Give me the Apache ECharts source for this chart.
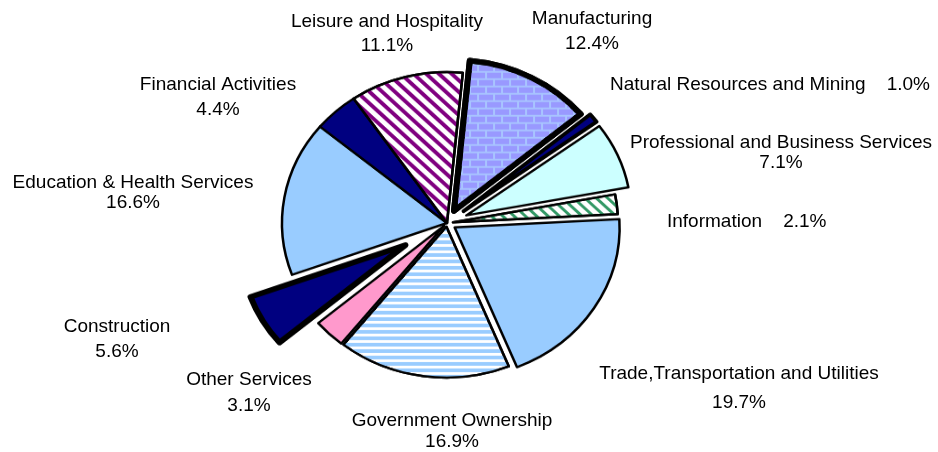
<!DOCTYPE html>
<html><head><meta charset="utf-8">
<script src="https://cdn.jsdelivr.net/npm/echarts@6/dist/echarts.min.js"></script>
<style>
html,body{margin:0;padding:0;background:#fff;}
#wrap{position:relative;width:938px;height:452px;overflow:hidden;background:#fff;}
#pie{position:absolute;left:0;top:0;width:938px;height:452px;transform-origin:447px 223px;transform:scaleY(0.915);}
#labels{position:absolute;left:0;top:0;width:938px;height:452px;}
</style></head><body>
<div id="wrap"><div id="pie"></div><div id="labels"></div></div>
<script>
// ---- data ----
const categories = ['Manufacturing','Natural Resources and Mining','Professional and Business Services','Information','Trade,Transportation and Utilities','Government Ownership','Other Services','Construction','Education & Health Services','Financial Activities','Leisure and Hospitality'];
const shares = [12.4, 1.0, 7.1, 2.1, 19.7, 16.9, 3.1, 5.6, 16.6, 4.4, 11.1];

// ---- styling (not data) ----
const fills = ['#A8C4FF','#000080','#CCFFFF','#FFFFFF','#99CCFF','#FFFFFF','#FF99CC','#000080','#99CCFF','#000080','#FFFFFF'];
const borderWidths = [6, 4, 2.5, 2.5, 2.5, 2.5, 2.5, 6, 2.5, 2.5, 2.5];
const explode = [15, 21, 21, 6, 9, 4, 4, 48, 0, 0, 0];
const decals = {
  0: {symbol:'rect', symbolSize:1, symbolKeepAspect:false, color:'#9999FF', dashArrayX:[[14,2],[6,2,8,0]], dashArrayY:[6,2]},
  3: {symbol:'rect', symbolSize:1, symbolKeepAspect:false, color:'#339966', dashArrayX:[1,0], dashArrayY:[3,5], rotation:Math.PI/4},
  5: {symbol:'rect', symbolSize:1, symbolKeepAspect:false, color:'#99CCFF', dashArrayX:[1,0], dashArrayY:[4,3]},
  10: {symbol:'rect', symbolSize:1, symbolKeepAspect:false, color:'#800080', dashArrayX:[1,0], dashArrayY:[4,5], rotation:Math.PI/4}
};
const labelSpots = [
  {x:592, y:31, lh:25, align:'center'},
  {x:610, y:85, align:'left', gap:'    '},
  {x:781, y:153, lh:20, align:'center'},
  {x:667, y:222, align:'left', gap:'    '},
  {x:739, y:388, lh:29, align:'center'},
  {x:452, y:431, lh:21, align:'center'},
  {x:249, y:393, lh:26, align:'center'},
  {x:117, y:339, lh:25, align:'center'},
  {x:133, y:193, lh:20, align:'center'},
  {x:218, y:97, lh:25, align:'center'},
  {x:387, y:34, lh:24, align:'center'}
];
const CENTER = [447, 223], RADIUS = 165, START = 84.5;

// ---- pie layers (one per explode distance) ----
const groups = [...new Set(explode)];
const pieSeries = groups.map(off => ({
  type:'pie', center:CENTER, radius:RADIUS, startAngle:START, clockwise:true,
  silent:true, animation:false, selectedMode:'multiple', selectedOffset:off,
  avoidLabelOverlap:false, label:{show:false}, labelLine:{show:false},
  emphasis:{disabled:true},
  data: categories.map((name, i) => {
    const mine = explode[i] === off;
    const st = mine ? {color:fills[i], borderColor:'#000', borderWidth:borderWidths[i]} : {color:'rgba(0,0,0,0)', borderWidth:0};
    if (mine && decals[i]) st.decal = decals[i];
    return {name, value:shares[i], selected: mine && off > 0, itemStyle: st, select:{itemStyle: st}};
  })
}));
const pie = echarts.init(document.getElementById('pie'), null, {renderer:'canvas'});
pie.setOption({animation:false, backgroundColor:'#fff', series:pieSeries});

// ---- label layer ----
const lab = echarts.init(document.getElementById('labels'), null, {renderer:'canvas'});
lab.setOption({
  animation:false,
  series:[{
    type:'pie', center:CENTER, radius:RADIUS, startAngle:START, silent:true,
    avoidLabelOverlap:false, labelLine:{show:false}, emphasis:{disabled:true},
    itemStyle:{color:'rgba(0,0,0,0)', borderWidth:0},
    label:{show:true, position:'outside', color:'#000', fontFamily:'Liberation Sans, Arial, sans-serif', fontSize:19,
      formatter: p => {
        const s = labelSpots[p.dataIndex];
        const pct = p.value.toFixed(1) + '%';
        return s.gap ? p.name + s.gap + pct : p.name + '\n' + pct;
      }},
    labelLayout: p => {
      const s = labelSpots[p.dataIndex];
      return {x:s.x, y:s.y, align:s.align, verticalAlign:'middle', hideOverlap:false, moveOverlap:null};
    },
    data: categories.map((name, i) => ({name, value:shares[i], label:{lineHeight: labelSpots[i].lh || 22}}))
  }]
});
</script>
</body></html>
